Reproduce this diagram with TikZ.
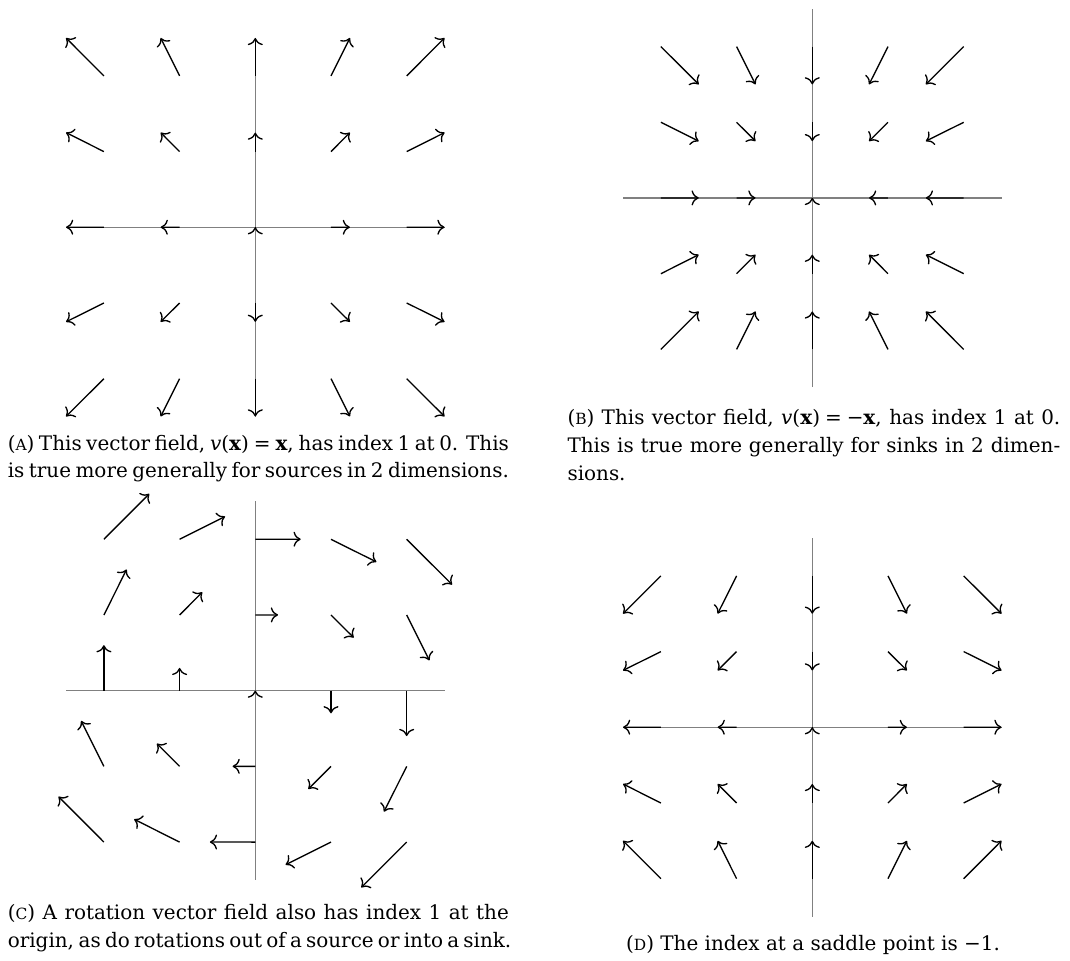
\documentclass[tikz,border=0pt]{standalone}
\usepackage{fontspec}
\setmainfont{DejaVu Serif}
\usepackage{xcolor}
\usepackage{tikz}
\usetikzlibrary{arrows.meta}
\newcommand{\sublabel}[1]{({\fontsize{5.8}{6}\selectfont #1})}

\begin{document}
\begin{tikzpicture}[
  axis/.style={gray, line width=0.4pt},
  vec/.style={->, black, line width=0.5pt},
  captext/.style={inner sep=0pt, anchor=base west, align=justify, font=\fontsize{7.5}{10.4}\selectfont}]
  \useasboundingbox (0,0) rectangle (14.135,-12.682);
  % (a) source, v(x) = x
  \begin{scope}[shift={(3.3725,-3.0026)}]
    \draw[axis] (-2.5,0) -- (2.5,0);
    \draw[axis] (0,-2.5) -- (0,2.5);
    \foreach \x in {-2,...,2}
      \foreach \y in {-2,...,2}
        \draw[vec] (\x,\y) -- ++({\x/4},{\y/4+0.001});
  \end{scope}
  % (b) sink, v(x) = -x
  \begin{scope}[shift={(10.7305,-2.6156)}]
    \draw[axis] (-2.5,0) -- (2.5,0);
    \draw[axis] (0,-2.5) -- (0,2.5);
    \foreach \x in {-2,...,2}
      \foreach \y in {-2,...,2}
        \draw[vec] (\x,\y) -- ++({-\x/4},{-\y/4+0.001});
  \end{scope}
  % (c) rotation
  \begin{scope}[shift={(3.3725,-9.1242)}]
    \draw[axis] (-2.5,0) -- (2.5,0);
    \draw[axis] (0,-2.5) -- (0,2.5);
    \foreach \x in {-2,...,2}
      \foreach \y in {-2,...,2}
        \draw[vec] (\x,\y) -- ++({0.3*\y},{-0.3*\x+0.001});
  \end{scope}
  % (d) saddle
  \begin{scope}[shift={(10.7305,-9.6077)}]
    \draw[axis] (-2.5,0) -- (2.5,0);
    \draw[axis] (0,-2.5) -- (0,2.5);
    \foreach \x in {-2,...,2}
      \foreach \y in {-2,...,2}
        \draw[vec] (\x,\y) -- ++({\x/4},{-\y/4+0.001});
  \end{scope}
  % captions
  \node[captext, text width=6.62cm] (capA) at (0.096,-5.945) {\sublabel{A} This vector field, \textit{v}(\textbf{x})\hspace{0.25em}=\hspace{0.25em}\textbf{x}, has index 1 at 0. This\linebreak \makebox[\hsize][s]{is true more generally for sources in 2 dimensions.}};
  \node[captext, text width=6.51cm] (capB) at (7.490,-5.614) {\sublabel{B} This vector field, \textit{v}(\textbf{x})\hspace{0.25em}=\hspace{0.25em}−\textbf{x}, has index 1 at 0.\linebreak This is true more generally for sinks in 2 dimen-\linebreak sions.};
  \node[captext, text width=6.62cm] (capC) at (0.096,-12.153) {\sublabel{C} A rotation vector field also has index 1 at the\linebreak \makebox[\hsize][s]{origin, as do rotations out of a source or into a sink.}};
  \node[captext, anchor=base, align=center] (capD) at (10.74,-12.55) {\sublabel{D} The index at a saddle point is −1.};
\end{tikzpicture}
\end{document}
